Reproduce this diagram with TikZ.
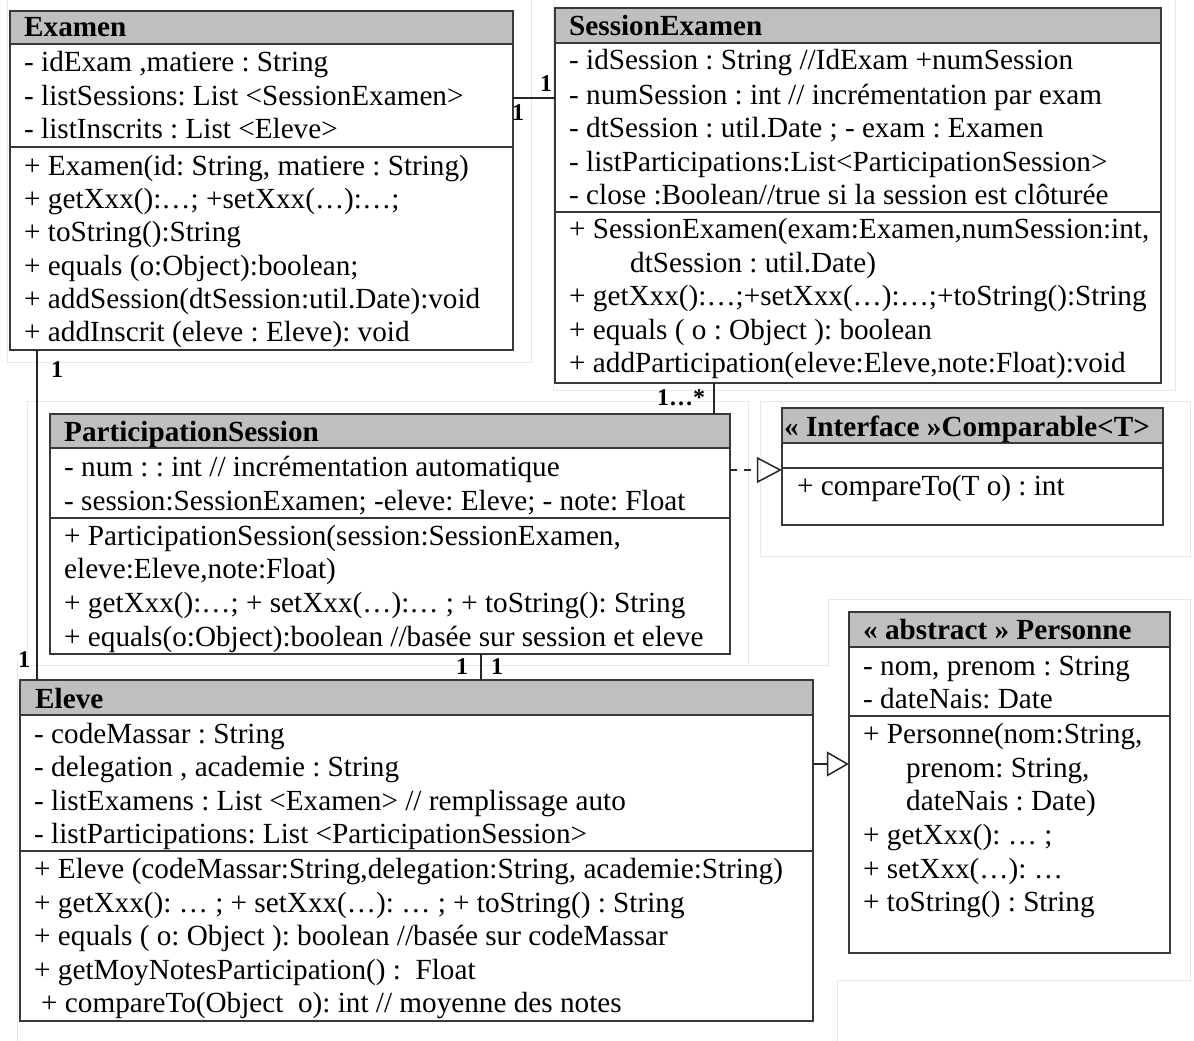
\documentclass[tikz,border=0pt]{standalone}
\usepackage{fontspec}
\setmainfont{Liberation Serif}
\usetikzlibrary{arrows.meta,fit}
\definecolor{headgray}{gray}{0.75}
\definecolor{edgegray}{gray}{0.22}
\definecolor{framegray}{gray}{0.91}
% class box: name, x1, y1, x2, y2, bottom of header, attribute/operation separator
\newcommand\classbox[7]{%
  \node[fit={(#2,#3) (#4,#5)}, inner sep=0pt] (#1) {};
  \fill[headgray] (#2,#3) rectangle (#4,#6);
  \draw[compart] (#2,#6) -- (#4,#6) (#2,#7) -- (#4,#7);
  \draw[outline] (#1.north west) rectangle (#1.south east);
}
\begin{document}
\frenchspacing
\begin{tikzpicture}[x=1pt, y=-1pt,
  txt/.style={anchor=base west, inner sep=0pt, font=\fontsize{29.2}{33.6}\selectfont},
  head/.style={txt, font=\bfseries\fontsize{29.2}{33.6}\selectfont},
  mult/.style={inner sep=0pt, font=\bfseries\fontsize{24}{28}\selectfont},
  outline/.style={draw=edgegray, line width=1.5pt},
  compart/.style={draw=edgegray, line width=1.3pt},
  link/.style={draw=black!85, line width=1.5pt},
  realize/.style={link, dash pattern=on 7pt off 7pt,
    -{Triangle[open, length=25pt, width=26pt, line width=1.5pt]}},
  inherit/.style={link, -{Triangle[open, length=22pt, width=25pt, line width=1.5pt]}},
  faint/.style={draw=framegray, line width=1pt}]
\useasboundingbox (0,0) rectangle (1194,1041);
\fill[white] (0,0) rectangle (1194,1041);

% light frame borders around the class blocks
\draw[faint] (7,0) -- (7,362) -- (531,362) -- (531,0);
\draw[faint] (553,0) -- (553,390) -- (1175,390) -- (1175,0);
\draw[faint] (27,401) rectangle (748,665);
\draw[faint] (748,665) -- (828,665);
\draw[faint] (760,401) rectangle (1190,556);
\draw[faint] (828,667) -- (828,599) -- (1190,599) -- (1190,980) -- (837,980) -- (837,1041);
\draw[faint] (17,1041) -- (17,660);

% ---------- classes ----------
\classbox{examen}{10}{11}{513}{350}{44}{147}
\node[head] (ex-h) at (24,37) {Examen};
\node[txt] (ex-a1) at (24,72) {- idExam ,matiere : String};
\node[txt] (ex-a2) at (24,105) {- listSessions: List <SessionExamen>};
\node[txt] (ex-a3) at (24,138) {- listInscrits : List <Eleve>};
\node[txt] (ex-m1) at (24,175) {+ Examen(id: String, matiere : String)};
\node[txt] (ex-m2) at (24,208) {+ getXxx():…; +setXxx(…):…;};
\node[txt] (ex-m3) at (24,241) {+ toString():String};
\node[txt] (ex-m4) at (24,275) {+ equals (o:Object):boolean;};
\node[txt] (ex-m5) at (24,308) {+ addSession(dtSession:util.Date):void};
\node[txt] (ex-m6) at (24,341) {+ addInscrit (eleve : Eleve): void};

\classbox{session}{555}{8}{1161}{383}{43}{212}
\node[head] (se-h) at (569,36) {SessionExamen};
\node[txt] (se-a1) at (569,70) {- idSession : String //IdExam +numSession};
\node[txt] (se-a2) at (569,104) {- numSession : int // incrémentation par exam};
\node[txt] (se-a3) at (569,137) {- dtSession : util.Date ; - exam : Examen};
\node[txt] (se-a4) at (569,171) {- listParticipations:List<ParticipationSession>};
\node[txt] (se-a5) at (569,204) {- close :Boolean//true si la session est clôturée};
\node[txt] (se-m1) at (569,238) {+ SessionExamen(exam:Examen,numSession:int,};
\node[txt] (se-m2) at (630,272) {dtSession : util.Date)};
\node[txt] (se-m3) at (569,305) {+ getXxx():…;+setXxx(…):…;+toString():String};
\node[txt] (se-m4) at (569,339) {+ equals ( o : Object ): boolean};
\node[txt] (se-m5) at (569,372) {+ addParticipation(eleve:Eleve,note:Float):void};

\classbox{ps}{50}{414}{730}{654}{448}{518}
\node[head] (ps-h) at (64,441) {ParticipationSession};
\node[txt] (ps-a1) at (64,476) {- num : : int // incrémentation automatique};
\node[txt] (ps-a2) at (64,510) {- session:SessionExamen; -eleve: Eleve; - note: Float};
\node[txt] (ps-m1) at (64,545) {+ ParticipationSession(session:SessionExamen,};
\node[txt] (ps-m2) at (64,578) {eleve:Eleve,note:Float)};
\node[txt] (ps-m3) at (64,612) {+ getXxx():…; + setXxx(…):… ; + toString(): String};
\node[txt] (ps-m4) at (64,646) {+ equals(o:Object):boolean //basée sur session et eleve};

\classbox{iface}{782}{408}{1163}{525}{443}{468}
\node[head] (if-h) at (784,436) {« Interface »Comparable<T>};
\node[txt] (if-m1) at (797,495) {+ compareTo(T o) : int};

\classbox{eleve}{20}{680}{813}{1021}{715}{851}
\node[head] (el-h) at (35,708) {Eleve};
\node[txt] (el-a1) at (34,743) {- codeMassar : String};
\node[txt] (el-a2) at (34,776) {- delegation , academie : String};
\node[txt] (el-a3) at (34,810) {- listExamens : List <Examen> // remplissage auto};
\node[txt] (el-a4) at (34,843) {- listParticipations: List <ParticipationSession>};
\node[txt] (el-m1) at (34,878) {+ Eleve (codeMassar:String,delegation:String, academie:String)};
\node[txt] (el-m2) at (34,912) {+ getXxx(): … ; + setXxx(…): … ; + toString() : String};
\node[txt] (el-m3) at (34,945) {+ equals ( o: Object ): boolean //basée sur codeMassar};
\node[txt] (el-m4) at (34,979) {+ getMoyNotesParticipation() :~ Float};
\node[txt] (el-m5) at (41,1012) {+ compareTo(Object~ o): int // moyenne des notes};

\classbox{personne}{849}{612}{1170}{953}{647}{716}
\node[head] (pe-h) at (863,639) {« abstract » Personne};
\node[txt] (pe-a1) at (863,675) {- nom, prenom : String};
\node[txt] (pe-a2) at (863,708) {- dateNais: Date};
\node[txt] (pe-m1) at (863,743) {+ Personne(nom:String,};
\node[txt] (pe-m2) at (906,777) {prenom: String,};
\node[txt] (pe-m3) at (906,810) {dateNais : Date)};
\node[txt] (pe-m4) at (863,844) {+ getXxx(): … ;};
\node[txt] (pe-m5) at (863,878) {+ setXxx(…): …};
\node[txt] (pe-m6) at (863,911) {+ toString() : String};

% ---------- relations ----------
\draw[link] (examen.east |- 0,98) -- (session.west |- 0,98);
\node[mult] (m-es1) at (546,84) {1};
\node[mult] (m-es2) at (518,113) {1};

\draw[link] (37,0 |- examen.south) -- (37,0 |- eleve.north);
\node[mult] (m-ee1) at (57,370) {1};
\node[mult] (m-ee2) at (24,660) {1};

\draw[link] (714,0 |- session.south) -- (714,0 |- ps.north);
\node[mult] (m-sp) at (681,398) {1…*};

\draw[link] (481,0 |- ps.south) -- (481,0 |- eleve.north);
\node[mult] (m-pe1) at (462,667) {1};
\node[mult] (m-pe2) at (497,667) {1};

\draw[realize] (ps.east |- 0,470) -- (iface.west |- 0,470);
\draw[inherit] (eleve.east |- 0,764) -- (personne.west |- 0,764);
\end{tikzpicture}
\end{document}
